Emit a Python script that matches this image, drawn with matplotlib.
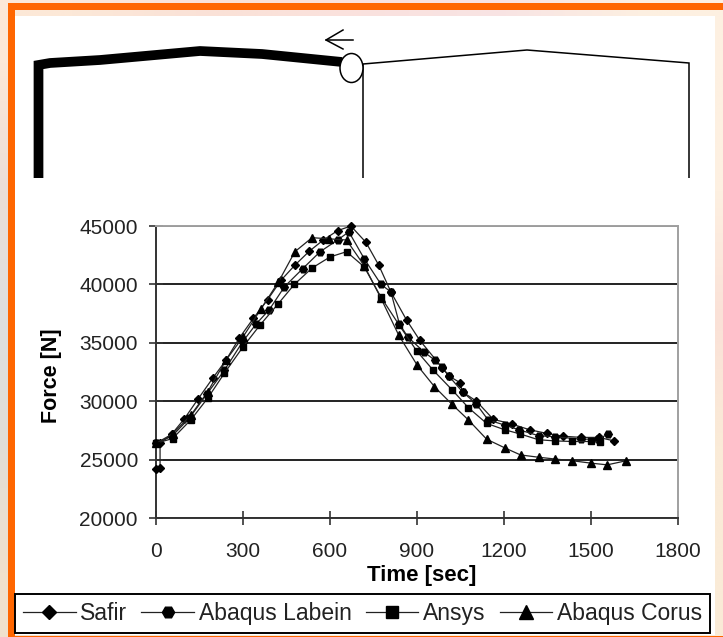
import numpy as np
import matplotlib
matplotlib.use("Agg")
import matplotlib.pyplot as plt
from matplotlib.patches import Ellipse, Rectangle

plt.rcParams['font.family'] = ['Liberation Sans', 'DejaVu Sans']

W, H = 723, 637

safir_t = [0, 14, 14, 55, 98, 144, 195, 241, 287, 336, 385, 431, 479, 529, 577, 626, 672, 724, 768, 810, 864, 910, 987, 1010, 1048, 1057, 1105, 1163, 1226, 1289, 1347, 1404, 1467, 1527, 1580]
safir_f = [24200, 24250, 26400, 27200, 28500, 30150, 31950, 33500, 35400, 37100, 38700, 40350, 41650, 42850, 43800, 44600, 45000, 43600, 41650, 39350, 36950, 35200, 32870, 32150, 31600, 30800, 30000, 28450, 28050, 27550, 27250, 27000, 26900, 26900, 26600]
labein_t = [0, 55, 115, 175, 236, 299, 345, 391, 443, 506, 566, 626, 665, 718, 776, 810, 839, 868, 925, 962, 987, 1010, 1057, 1105, 1145, 1203, 1252, 1319, 1376, 1467, 1525, 1560]
labein_f = [26400, 27000, 28550, 30600, 32650, 35100, 36600, 37850, 39800, 41350, 42800, 43800, 44500, 42200, 40000, 39350, 36650, 35500, 34200, 33500, 32900, 32150, 30800, 29750, 28400, 27950, 27550, 27050, 26950, 26750, 26750, 27200]
ansys_t = [0, 57, 120, 178, 236, 300, 358, 420, 477, 538, 600, 657, 718, 776, 839, 899, 956, 1020, 1077, 1140, 1203, 1255, 1319, 1376, 1436, 1499, 1530]
ansys_f = [26400, 26800, 28400, 30250, 32400, 34650, 36500, 38300, 40000, 41400, 42350, 42800, 41500, 38900, 36500, 34300, 32650, 31000, 29450, 28100, 27550, 27200, 26700, 26600, 26550, 26550, 26500]
corus_t = [0, 57, 120, 178, 241, 300, 362, 422, 479, 538, 598, 657, 718, 776, 837, 901, 960, 1020, 1077, 1140, 1203, 1257, 1320, 1376, 1436, 1499, 1556, 1621]
corus_f = [26400, 27200, 28800, 30800, 33500, 35500, 37900, 40200, 42800, 44000, 43900, 43800, 41600, 38800, 35650, 33070, 31250, 29750, 28400, 26750, 26000, 25400, 25200, 25050, 24900, 24700, 24550, 24900]

series_names = ['Safir', 'Abaqus Labein', 'Ansys', 'Abaqus Corus']
x_ticks = [0, 300, 600, 900, 1200, 1500, 1800]
y_ticks = [20000, 25000, 30000, 35000, 40000, 45000]

# frame sketch above the chart (image pixels)
thick_x = [38.5, 38.5, 50, 100, 200, 262, 342]
thick_y = [178, 65, 63, 60, 51, 54, 62]
thin_x = [363, 363, 527, 689, 689]
thin_y = [178, 64, 50, 63, 178]
arrow_x = [353, 326]
arrow_y = [40, 40]
head_x = [343, 326, 343]
head_y = [30, 40, 49]

fig = plt.figure(figsize=(W / 100, H / 100), dpi=100)

# pastel slide background
bg = fig.add_axes([0, 0, 1, 1], zorder=0)
grid = np.array([
    [[252, 232, 215], [250, 225, 215], [250, 225, 222], [248, 228, 228], [253, 240, 225]],
    [[235, 222, 215], [250, 235, 225], [248, 225, 225], [252, 235, 225], [253, 240, 225]],
    [[222, 222, 222], [240, 230, 225], [248, 235, 225], [250, 240, 225], [250, 225, 215]],
    [[225, 222, 215], [240, 235, 215], [250, 240, 215], [250, 240, 215], [250, 235, 215]],
    [[240, 225, 205], [240, 235, 215], [250, 240, 215], [250, 240, 215], [250, 235, 215]],
], dtype=float) / 255
bg.imshow(grid, extent=[0, W, H, 0], aspect='auto', interpolation='bilinear')
bg.set_xlim(0, W); bg.set_ylim(H, 0); bg.axis('off')
ORANGE = '#ff6600'
bg.add_patch(Rectangle((15, 16), 700, 619, fc='white', ec='none'))
bg.add_patch(Rectangle((7.5, 3), 716, 7, fc=ORANGE, ec='none'))
bg.add_patch(Rectangle((7.5, 3), 7.5, 634, fc=ORANGE, ec='none'))
bg.add_patch(Rectangle((15, 635.5), 708, 1.5, fc=ORANGE, ec='none'))
bg.plot(thick_x, thick_y, color='black', lw=7, solid_joinstyle='miter', solid_capstyle='butt')
bg.plot(thin_x, thin_y, color='black', lw=1.1, solid_joinstyle='miter', solid_capstyle='butt')
bg.add_patch(Ellipse((351.5, 68), 23, 29, fc='white', ec='black', lw=1.1, zorder=5))
bg.plot(arrow_x, arrow_y, color='black', lw=1.1)
bg.plot(head_x, head_y, color='black', lw=1.1)

# chart
ax = fig.add_axes([156 / W, 1 - 518 / H, (678 - 156) / W, (518 - 226) / H], zorder=2)
ax.patch.set_alpha(0)
ax.set_xlim(0, 1800)
ax.set_ylim(20000, 45000)
ax.set_xticks(x_ticks)
ax.set_yticks(y_ticks)
ax.grid(axis='y', color='#222222', lw=1.4, zorder=1)
ax.set_axisbelow(True)
for s in ['top', 'right']:
    ax.spines[s].set_color('#a0a0a0'); ax.spines[s].set_linewidth(1.4)
for s in ['left', 'bottom']:
    ax.spines[s].set_color('#333333'); ax.spines[s].set_linewidth(1.4)
ax.tick_params(axis='both', direction='inout', length=10, width=1.2, color='#333333',
               labelsize=15, labelcolor='#222222')
ax.tick_params(axis='x', pad=12)
ax.tick_params(axis='y', pad=8)

styles = [
    (safir_t, safir_f, 'D', 4.2),
    (labein_t, labein_f, 'H', 5.5),
    (ansys_t, ansys_f, 's', 5),
    (corus_t, corus_f, '^', 6),
]
handles = []
for (t, f, m, ms), name in zip(styles, series_names):
    h, = ax.plot(t, f, color='#222222', lw=0.9, marker=m, ms=ms, mfc='black', mec='black',
                 clip_on=False, label=name, zorder=3)
    handles.append(h)

ax.set_xlabel('Time [sec]', fontsize=16, fontweight='bold', va='center')
ax.xaxis.set_label_coords((422 - 156) / (678 - 156), (518 - 575) / (518 - 226))
ax.set_ylabel('Force [N]', fontsize=15.5, fontweight='bold', va='center')
ax.yaxis.set_label_coords((52 - 156) / (678 - 156), (518 - 376) / (518 - 226))

leg = fig.legend(handles=handles, loc='lower left', mode='expand', ncol=4,
                 bbox_to_anchor=(15 / W, 1 - 633 / H, (710 - 15) / W, 35 / H),
                 fontsize=16.5, labelcolor='#222222', frameon=True, fancybox=False, edgecolor='black',
                 framealpha=1, borderaxespad=0, handlelength=2.3, handletextpad=0.2,
                 columnspacing=0.4, borderpad=0.35, markerscale=1.6)
leg.get_frame().set_linewidth(1.4)
leg.set_zorder(4)

fig.savefig('out.png', dpi=100)
